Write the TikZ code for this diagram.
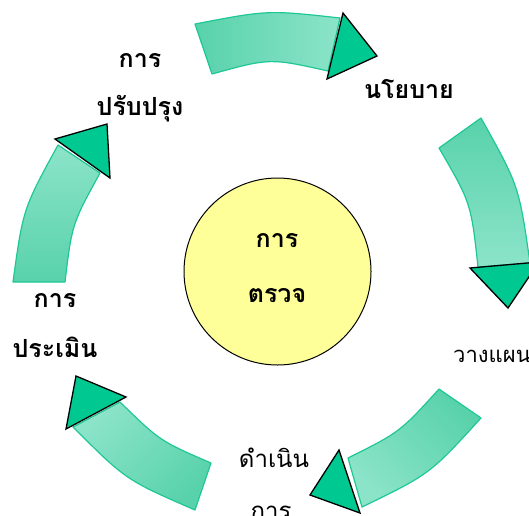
\documentclass[tikz,border=0pt]{standalone}
\usepackage{fontspec}
\newfontfamily\thai[Script=Thai]{Loma}
\definecolor{bandDark}{RGB}{88,210,170}
\definecolor{bandLight}{RGB}{140,228,200}
\definecolor{bandLine}{RGB}{30,200,150}
\definecolor{headFill}{RGB}{0,200,145}
\definecolor{discFill}{RGB}{255,255,153}
\tikzset{
  band/.style={draw=bandLine, line width=1.2pt, line join=round},
  head/.style={draw=black, fill=headFill, line width=1.3pt, line join=miter},
  lbl/.style={anchor=base, inner sep=0pt, font=\thai\fontsize{25}{25}\selectfont\bfseries},
  lblr/.style={anchor=base, inner sep=0pt, font=\thai\fontsize{24}{24}\selectfont},
}
\begin{document}
\begin{tikzpicture}[x=1pt,y=-1pt]
\useasboundingbox (0,0) rectangle (529,515);
\clip (0,0) rectangle (529,515);
% bands
\path[band, left color=bandDark, right color=bandLight]
  (195,24) .. controls (268,10) .. (340,18) -- (328,71) .. controls (270,58) .. (212,74) -- cycle;
\path[band, top color=bandDark, bottom color=bandLight]
  (481,118) .. controls (519,186) .. (530,263) -- (478,267) .. controls (471,203) .. (439,148) -- cycle;
\path[band, top color=bandDark, bottom color=bandLight, shading angle=-45]
  (481,418) .. controls (430,474) .. (362,507) -- (348,458) .. controls (400,432) .. (439,389) -- cycle;
\path[band, top color=bandDark, bottom color=bandLight, shading angle=-135]
  (195,510) .. controls (126,480) .. (73,427) -- (120,402) .. controls (160,441) .. (211,463) -- cycle;
\path[band, top color=bandLight, bottom color=bandDark]
  (13,282) .. controls (23,209) .. (58,145) -- (100,173) .. controls (72,224) .. (65,282) -- cycle;
% heads
\draw[head] (343,13) -- (377,56) -- (327,79) -- cycle;
\draw[head] (470,268) -- (539,262) -- (508,308) -- cycle;
\draw[head] (339,450) -- (360,513) -- (310,495) -- cycle;
\draw[head] (76,376) -- (126,397) -- (66,429) -- cycle;
\draw[head] (55,139) -- (107,124) -- (110,178) -- cycle;
% centre
\node[circle, draw=black, fill=discFill, line width=1pt, minimum size=187pt, inner sep=0pt] (disc) at (277.5,271.5) {};
\node[lbl] (c1) at (277,247) {การ};
\node[lbl] (c2) at (277,302) {ตรวจ};
% labels
\node[lbl] (a1) at (140,67) {การ};
\node[lbl] (a2) at (140,115) {ปรับปรุง};
\node[lbl] (b1) at (409,98) {นโยบาย};
\node[lblr, anchor=base west, font=\thai\fontsize{22}{22}\selectfont] (d1) at (453,362) {วางแผน};
\node[lblr] (e1) at (274,467) {ดำเนิน};
\node[lblr] (e2) at (271,519) {การ};
\node[lbl] (f1) at (55,307) {การ};
\node[lbl] (f2) at (55,357) {ประเมิน};
\end{tikzpicture}
\end{document}
